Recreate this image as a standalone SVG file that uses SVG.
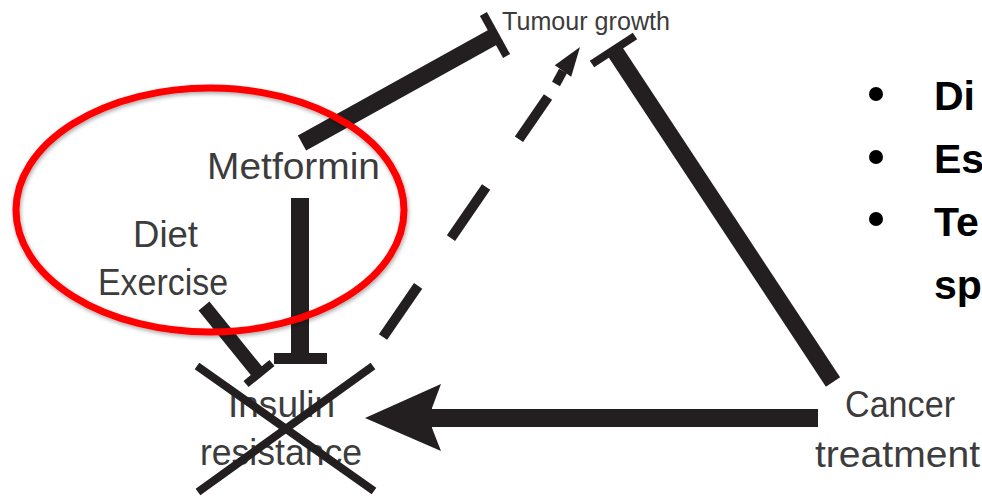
<svg xmlns="http://www.w3.org/2000/svg" width="982" height="499" viewBox="0 0 982 499">
  <style>
    .lbl { font-family: "Liberation Sans", Arial, sans-serif; fill: #3c3c3c; }
    .bul { font-family: "Liberation Sans", Arial, sans-serif; font-weight: bold; fill: #000; font-size: 41px; }
    .ln { stroke: #231f20; fill: none; stroke-linecap: butt; }
  </style>
  <defs>
    <filter id="shadow" x="-10%" y="-10%" width="120%" height="120%">
      <feGaussianBlur in="SourceAlpha" stdDeviation="2"/>
      <feOffset dx="1" dy="2" result="b"/>
      <feComponentTransfer><feFuncA type="linear" slope="0.35"/></feComponentTransfer>
      <feMerge><feMergeNode/><feMergeNode in="SourceGraphic"/></feMerge>
    </filter>
  </defs>
  <rect width="982" height="499" fill="#fff"/>

  <g id="connectors">
    <!-- Metformin -| Tumour growth -->
    <line class="ln" x1="302" y1="143" x2="495" y2="36" stroke-width="17"/>
    <line class="ln" x1="483.4" y1="14" x2="506.6" y2="56" stroke-width="8"/>
    <!-- Cancer treatment -| Tumour growth -->
    <line class="ln" x1="833" y1="382" x2="614" y2="50" stroke-width="17"/>
    <line class="ln" x1="592" y1="64" x2="635" y2="36" stroke-width="8"/>
    <!-- Insulin resistance - - > Tumour growth (dashed) -->
    <line class="ln" x1="383" y1="337" x2="548" y2="97" stroke-width="10" stroke-dasharray="62 58"/>
    <line class="ln" x1="556" y1="84" x2="563" y2="71" stroke-width="9"/>
    <polygon fill="#231f20" points="580,47 554.8,65.3 571.2,76.7"/>
    <!-- Cancer treatment -> Insulin resistance -->
    <line class="ln" x1="818" y1="418" x2="432" y2="418" stroke-width="18"/>
    <polygon fill="#231f20" points="365,418 441,384 432,408 432,428 441,451"/>
    <!-- Metformin -| Insulin resistance -->
    <line class="ln" x1="300" y1="198" x2="300" y2="355" stroke-width="18"/>
    <line class="ln" x1="274" y1="358.5" x2="327" y2="358.5" stroke-width="11"/>
    <!-- Diet Exercise -| Insulin resistance -->
    <line class="ln" x1="204" y1="306" x2="259" y2="374" stroke-width="14"/>
    <line class="ln" x1="246" y1="384" x2="272" y2="363" stroke-width="8"/>
  </g>

  <g id="tumour-growth">
    <text class="lbl" x="502" y="30" font-size="26" textLength="168" lengthAdjust="spacingAndGlyphs" fill="#555">Tumour growth</text>
  </g>

  <g id="metformin">
    <text class="lbl" x="207" y="179" font-size="36" textLength="173" lengthAdjust="spacingAndGlyphs">Metformin</text>
  </g>

  <g id="diet-exercise">
    <text class="lbl" x="133" y="247" font-size="36" textLength="65" lengthAdjust="spacingAndGlyphs">Diet</text>
    <text class="lbl" x="98" y="295" font-size="36" textLength="130" lengthAdjust="spacingAndGlyphs">Exercise</text>
  </g>

  <g id="insulin-resistance">
    <text class="lbl" x="228" y="417" font-size="37" textLength="107" lengthAdjust="spacingAndGlyphs">Insulin</text>
    <text class="lbl" x="200" y="465" font-size="37" textLength="162" lengthAdjust="spacingAndGlyphs">resistance</text>
    <line class="ln" x1="197" y1="366" x2="374" y2="491" stroke-width="8"/>
    <line class="ln" x1="373" y1="366" x2="198" y2="492" stroke-width="8"/>
  </g>

  <g id="cancer-treatment">
    <text class="lbl" x="845" y="417" font-size="37" textLength="110" lengthAdjust="spacingAndGlyphs">Cancer</text>
    <text class="lbl" x="815" y="467" font-size="37" textLength="165" lengthAdjust="spacingAndGlyphs">treatment</text>
  </g>

  <g id="highlight">
    <ellipse cx="210" cy="210" rx="194" ry="122" fill="none" stroke="#ff0000" stroke-width="7" filter="url(#shadow)"/>
  </g>

  <g id="bullets">
    <circle cx="876" cy="94" r="7" fill="#000"/>
    <circle cx="876" cy="157" r="7" fill="#000"/>
    <circle cx="876" cy="219" r="7" fill="#000"/>
    <text class="bul" x="934" y="110">Di</text>
    <text class="bul" x="934" y="173">Es</text>
    <text class="bul" x="934" y="236">Te</text>
    <text class="bul" x="934" y="299">sp</text>
  </g>
</svg>
